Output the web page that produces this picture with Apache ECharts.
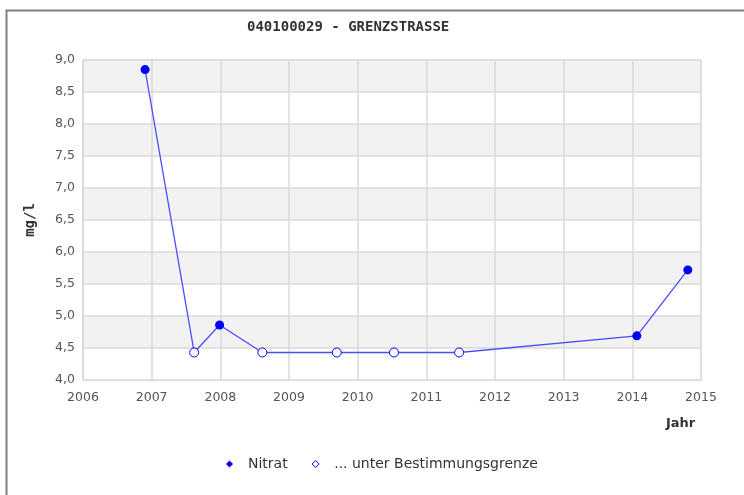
<!DOCTYPE html>
<html>
<head>
<meta charset="utf-8">
<script src="https://cdn.jsdelivr.net/npm/echarts@6/dist/echarts.min.js"></script>
<style>
html, body { margin: 0; padding: 0; background: #fff; }
#chart { width: 744px; height: 495px; }
</style>
</head>
<body>
<div id="chart"></div>
<script>
// Messwerte (Datum, mg/l, unter Bestimmungsgrenze?)
var dates = ['2006-11-27', '2007-08-15', '2007-12-28', '2008-08-12', '2009-09-12', '2010-07-13', '2011-06-24', '2014-01-25', '2014-10-23'];
var values = [8.85, 4.43, 4.86, 4.43, 4.43, 4.43, 4.43, 4.69, 5.72];
var belowLimit = [false, true, false, true, true, true, true, false, false];
var yTicks = [4, 4.5, 5, 5.5, 6, 6.5, 7, 7.5, 8, 8.5, 9];
var xYears = [2006, 2007, 2008, 2009, 2010, 2011, 2012, 2013, 2014, 2015];

// Datum -> Dezimaljahr
function toYear(s) {
    var d = new Date(s + 'T00:00:00Z');
    var y = d.getUTCFullYear();
    var start = Date.UTC(y, 0, 1), end = Date.UTC(y + 1, 0, 1);
    return y + (d.getTime() - start) / (end - start);
}

var blue = '#0000ff';
var seriesData = dates.map(function (d, i) {
    var item = { value: [toYear(d), values[i]] };
    if (belowLimit[i]) {
        item.itemStyle = { color: '#ffffff', borderColor: blue, borderWidth: 1 };
    }
    return item;
});

var chart = echarts.init(document.getElementById('chart'));
chart.setOption({
    animation: false,
    backgroundColor: '#fff',
    graphic: [{
        type: 'rect',
        shape: { x: 6.5, y: 10.5, width: 800, height: 600 },
        style: { fill: 'none', stroke: '#808080', lineWidth: 2 }
    }, {
        // Achsenname der x-Achse
        type: 'text',
        left: 666,
        top: 417,
        style: { text: 'Jahr', font: 'bold 13px "DejaVu Sans"', fill: '#333' }
    }],
    title: {
        text: '040100029 - GRENZSTRASSE',
        left: 242,
        top: 15,
        textStyle: { fontFamily: 'DejaVu Sans Mono', fontSize: 14, fontWeight: 'bold', color: '#333' }
    },
    legend: {
        top: 452,
        left: 221,
        itemWidth: 7,
        itemHeight: 7,
        itemGap: 24,
        textStyle: { fontFamily: 'DejaVu Sans', fontSize: 14, color: '#333', padding: [0, 0, 0, 10] },
        data: [
            { name: 'Nitrat', icon: 'diamond', itemStyle: { color: blue } },
            { name: '... unter Bestimmungsgrenze', icon: 'diamond', itemStyle: { color: '#fff', borderColor: blue, borderWidth: 1 } }
        ]
    },
    grid: {
        left: 83, right: 43, top: 60, bottom: 115,
        show: true, borderColor: '#d9d9d9', borderWidth: 1
    },
    xAxis: {
        type: 'value',
        min: xYears[0],
        max: xYears[xYears.length - 1],
        interval: 1,
        axisLine: { lineStyle: { color: '#d9d9d9' } },
        axisTick: { show: false },
        axisLabel: { color: '#555', fontFamily: 'DejaVu Sans', fontSize: 12.5, margin: 11, formatter: function (v) { return String(v); } },
        splitLine: { show: true, lineStyle: { color: '#d9d9d9', width: 1.5 } }
    },
    yAxis: {
        type: 'value',
        min: yTicks[0],
        max: yTicks[yTicks.length - 1],
        interval: 0.5,
        name: 'mg/l',
        nameLocation: 'middle',
        nameGap: 46,
        nameRotate: 90,
        nameTextStyle: { fontFamily: 'DejaVu Sans Mono', fontWeight: 'bold', fontSize: 14, color: '#333' },
        axisLine: { show: true, lineStyle: { color: '#d9d9d9' } },
        axisTick: { show: false },
        axisLabel: { color: '#555', fontFamily: 'DejaVu Sans', fontSize: 12.5, margin: 8, formatter: function (v) { return v.toFixed(1).replace('.', ','); } },
        splitLine: { show: true, lineStyle: { color: '#d9d9d9', width: 1.5 } },
        splitArea: { show: true, areaStyle: { color: ['#ffffff', '#f2f2f2'] } }
    },
    series: [{
        name: 'Nitrat',
        type: 'line',
        data: seriesData,
        symbol: 'circle',
        symbolSize: 9,
        itemStyle: { color: blue },
        lineStyle: { color: '#4d4dff', width: 1.3 }
    }, {
        name: '... unter Bestimmungsgrenze',
        type: 'line',
        data: [],
        itemStyle: { color: '#fff', borderColor: blue }
    }]
});
</script>
</body>
</html>
